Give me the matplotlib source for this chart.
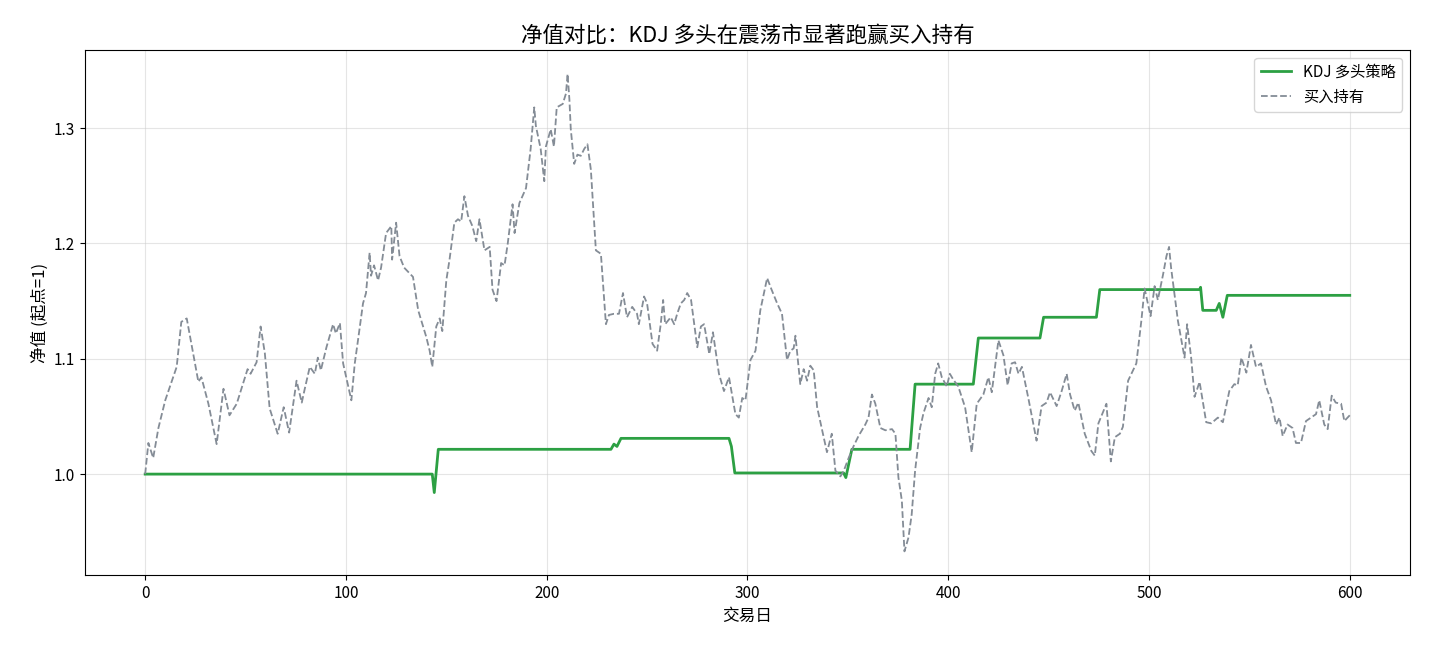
import matplotlib
matplotlib.use("Agg")
import matplotlib.pyplot as plt

plt.rcParams['font.family'] = ['Noto Sans CJK SC', 'DejaVu Sans']
plt.rcParams['axes.unicode_minus'] = False

# 买入持有净值（从图上读出的转折点）
bh_days = [0, 1.6, 4, 6.6, 10, 15.7, 18, 20.7, 22.4, 26.5, 28, 31.5, 35.6, 39, 42, 45.6,
           51, 52.5, 55.5, 57.5, 59.6, 62, 66, 69, 71.7, 75.4, 78, 79.5, 82, 84.5, 86,
           87.5, 90.3, 93.6, 95, 97, 98.6, 102.7, 104.4, 106, 108.5, 110, 111.8, 112.5,
           114, 116, 117.5, 120, 122.6, 123, 125, 126.7, 129, 133.4, 136, 140, 141.7,
           143, 145, 146.7, 148, 150, 151.6, 154, 155.8, 157.4, 159, 160.8, 163, 164.9,
           166.5, 169, 171.6, 173, 175, 177.3, 179, 180.6, 183, 184, 186.4, 189.7, 192,
           193.8, 194.6, 197, 198.8, 199.6, 202, 203.6, 205, 208, 209.6, 210.4, 211.3,
           212, 213.7, 215.3, 217, 218.7, 220.3, 222, 224.5, 227, 229.5, 231, 233.5,
           236, 238, 240, 242.6, 245, 245.9, 248.5, 250, 252.7, 255, 256.8, 258, 259,
           261.8, 263.5, 265, 266.8, 268.5, 270, 271.9, 275, 276.8, 278.4, 281, 282.8,
           285.8, 288.3, 290.8, 294, 295.7, 297.4, 299, 301.5, 304, 306.4, 309.8, 312,
           314.8, 317.2, 319.7, 321.4, 323, 323.9, 326.3, 328, 329.7, 331.3, 333, 334.7,
           337.2, 339.6, 342, 343.8, 346.3, 348, 350.4, 352.8, 355.3, 358.7, 360.3, 362,
           363.7, 366.2, 368.7, 372, 373.7, 375.2, 376.9, 378.2, 380.2, 381.8, 383.5,
           386, 387.7, 390.2, 391.8, 393.5, 395, 396.8, 399.3, 400.8, 402.5, 405, 408.4,
           411.7, 414.2, 417.5, 420, 421.7, 425, 427.5, 429.6, 431.6, 433.3, 435, 436.7,
           440, 444, 446.5, 449, 450.7, 454, 456.5, 459, 460.7, 463, 464.8, 468, 471.3,
           473, 474.8, 478.8, 481, 483, 485.5, 487, 489.6, 493.7, 496.2, 497.8, 500.8,
           502.8, 504.4, 507, 508.7, 510, 511, 514.4, 517.7, 519, 521, 522.7, 525.2,
           528.5, 531, 534.3, 536.8, 540, 542.5, 544.2, 546, 548.5, 550.8, 553.3, 555.8,
           558.3, 560.8, 563.3, 565, 566.6, 569, 571.5, 573.2, 575.7, 578.2, 580.7,
           583.2, 584.8, 587.3, 589, 591, 593, 595.7, 597.3, 600]
bh_vals = [1.000, 1.027, 1.014, 1.040, 1.064, 1.093, 1.132, 1.135, 1.119, 1.080, 1.084,
           1.061, 1.026, 1.074, 1.051, 1.061, 1.091, 1.087, 1.097, 1.128, 1.105, 1.057,
           1.035, 1.058, 1.036, 1.081, 1.062, 1.074, 1.093, 1.087, 1.101, 1.090, 1.110,
           1.130, 1.122, 1.131, 1.096, 1.064, 1.096, 1.116, 1.148, 1.157, 1.192, 1.172,
           1.181, 1.168, 1.179, 1.209, 1.215, 1.186, 1.218, 1.189, 1.179, 1.171, 1.142,
           1.119, 1.107, 1.093, 1.128, 1.135, 1.124, 1.168, 1.186, 1.218, 1.221, 1.219,
           1.241, 1.224, 1.215, 1.202, 1.221, 1.194, 1.197, 1.160, 1.150, 1.183, 1.181,
           1.200, 1.234, 1.209, 1.235, 1.248, 1.282, 1.318, 1.302, 1.282, 1.254, 1.284,
           1.299, 1.284, 1.318, 1.321, 1.330, 1.347, 1.325, 1.299, 1.269, 1.277, 1.276,
           1.282, 1.286, 1.264, 1.194, 1.191, 1.130, 1.138, 1.139, 1.139, 1.157, 1.136,
           1.145, 1.139, 1.130, 1.154, 1.148, 1.113, 1.107, 1.130, 1.151, 1.130, 1.136,
           1.130, 1.139, 1.148, 1.151, 1.157, 1.151, 1.110, 1.128, 1.130, 1.104, 1.123,
           1.087, 1.072, 1.084, 1.052, 1.049, 1.066, 1.064, 1.099, 1.107, 1.142, 1.170,
           1.160, 1.148, 1.139, 1.099, 1.107, 1.109, 1.120, 1.078, 1.091, 1.081, 1.094,
           1.090, 1.058, 1.038, 1.019, 1.035, 1.003, 0.998, 1.003, 1.014, 1.024, 1.033,
           1.043, 1.049, 1.069, 1.061, 1.040, 1.038, 1.039, 1.035, 0.997, 0.977, 0.933,
           0.945, 0.965, 1.003, 1.040, 1.053, 1.066, 1.058, 1.087, 1.096, 1.084, 1.076,
           1.087, 1.082, 1.076, 1.058, 1.019, 1.061, 1.069, 1.084, 1.071, 1.116, 1.103,
           1.077, 1.096, 1.097, 1.087, 1.093, 1.065, 1.029, 1.059, 1.062, 1.071, 1.059,
           1.072, 1.087, 1.069, 1.055, 1.062, 1.035, 1.020, 1.016, 1.044, 1.061, 1.011,
           1.032, 1.035, 1.041, 1.081, 1.096, 1.133, 1.161, 1.137, 1.163, 1.151, 1.173,
           1.189, 1.197, 1.179, 1.133, 1.101, 1.130, 1.101, 1.067, 1.080, 1.045, 1.044,
           1.049, 1.045, 1.072, 1.078, 1.077, 1.101, 1.088, 1.112, 1.093, 1.096, 1.076,
           1.064, 1.043, 1.049, 1.033, 1.043, 1.040, 1.027, 1.027, 1.046, 1.049, 1.052,
           1.064, 1.043, 1.039, 1.068, 1.062, 1.061, 1.046, 1.051]

# KDJ 多头策略净值（阶梯状）
kdj_days = [0, 143, 144, 146, 232, 233.5, 235, 237, 290.8, 292, 293.7, 347.9, 349, 352,
            381, 383.5, 412.5, 415, 445.7, 447.5, 473.8, 475.5, 525.2, 525.7, 526.8,
            533.5, 535, 536.8, 539, 600]
kdj_vals = [1.000, 1.000, 0.984, 1.0215, 1.0215, 1.026, 1.024, 1.031, 1.031, 1.024,
            1.001, 1.001, 0.997, 1.0215, 1.0215, 1.078, 1.078, 1.118, 1.118, 1.136,
            1.136, 1.160, 1.160, 1.162, 1.142, 1.142, 1.148, 1.136, 1.155, 1.155]

fig, ax = plt.subplots(figsize=(14.3, 6.5), dpi=100)
fig.subplots_adjust(left=0.0594, right=0.986, top=0.923, bottom=0.115)

ax.plot(kdj_days, kdj_vals, color='#2ca043', lw=2, label='KDJ 多头策略')
ax.plot(bh_days, bh_vals, color='#848c96', lw=1.3, ls='--', label='买入持有')

ax.set_title('净值对比：KDJ 多头在震荡市显著跑赢买入持有', fontsize=15.5)
ax.set_xlabel('交易日', fontsize=12)
ax.set_ylabel('净值 (起点=1)', fontsize=12)
ax.set_xticks([0, 100, 200, 300, 400, 500, 600])
ax.set_yticks([1.0, 1.1, 1.2, 1.3])
ax.tick_params(labelsize=11)
ax.grid(True, color='#cccccc', alpha=0.5, lw=0.8)
ax.legend(loc='upper right', fontsize=11)

fig.savefig('out.png', dpi=100)
